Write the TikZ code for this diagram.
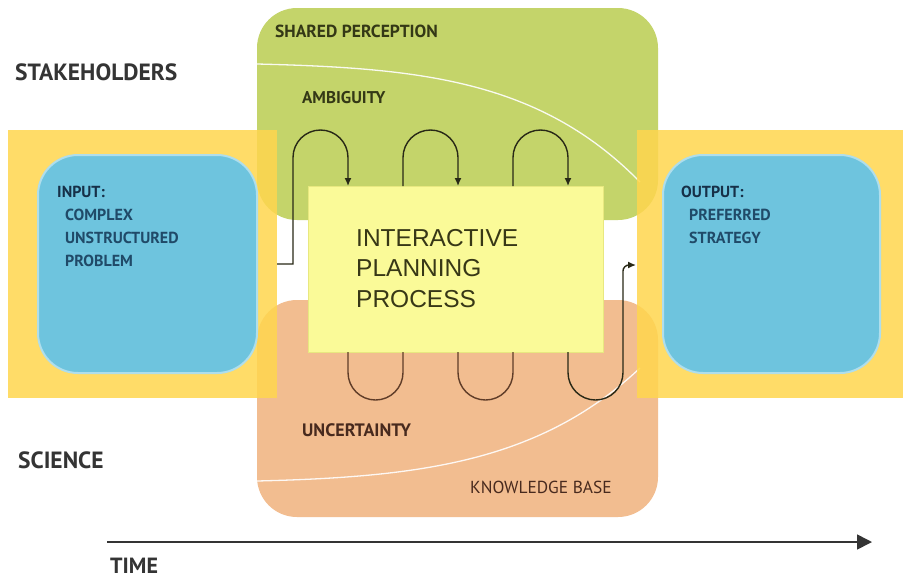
\documentclass[tikz,border=0pt]{standalone}
\usepackage{fontspec}
\setmainfont{PT Sans}
\newfontfamily\arialf{Liberation Sans}
\usetikzlibrary{arrows.meta}
\definecolor{grn}{RGB}{196,212,106}
\definecolor{org}{RGB}{242,189,144}
\definecolor{ylw}{RGB}{255,214,78}
\definecolor{blu}{RGB}{110,196,222}
\definecolor{blurim}{RGB}{175,222,236}
\definecolor{pale}{RGB}{250,250,152}
\definecolor{paleedge}{RGB}{232,232,128}
\definecolor{navy}{RGB}{22,48,72}
\definecolor{teal}{RGB}{32,74,104}
\definecolor{olive}{RGB}{52,56,22}
\definecolor{brwn}{RGB}{72,42,30}
\definecolor{lbl}{RGB}{52,52,52}
\definecolor{loopdark}{RGB}{40,40,22}
\definecolor{loopbrown}{RGB}{95,60,40}
\tikzset{
  region/.style={rounded corners=40pt},
  band/.style={fill=ylw, fill opacity=0.85},
  bluebox/.style={fill=blu, draw=blurim, line width=2pt, rounded corners=40pt},
  procbox/.style={fill=pale, draw=paleedge, line width=0.6pt, inner sep=0pt},
  biglbl/.style={font=\bfseries\fontsize{23.5}{26}\selectfont, text=lbl, inner sep=0pt, anchor=base west},
  boxtxt/.style={font=\bfseries\fontsize{16}{23}\selectfont, text=teal, inner sep=0pt, align=left, anchor=north west},
  grnlbl/.style={font=\bfseries\fontsize{17.5}{20}\selectfont, text=olive, inner sep=0pt, anchor=base west},
  orglbl/.style={font=\bfseries\fontsize{17.5}{20}\selectfont, text=brwn, inner sep=0pt, anchor=base west},
  looptop/.style={draw=loopdark, line width=1.4pt, -{Latex[length=8pt,width=7pt]}},
  loopbot/.style={draw=loopbrown, line width=1.4pt},
  whitecurve/.style={draw=white, line width=1.3pt, opacity=0.9},
}
\begin{document}
\begin{tikzpicture}[x=1pt,y=-1pt]
\useasboundingbox (0,0) rectangle (905,579);
\fill[white] (0,0) rectangle (905,579);

% regions
\path[region, fill=grn] (257,8) rectangle (658,220);
\path[region, fill=org] (257,300) rectangle (658,517);
\draw[whitecurve] (257,64) .. controls (420,68) and (540,80) .. (640,182);
\draw[whitecurve] (257,481) .. controls (420,477) and (540,462) .. (640,368);

% input / output bands
\path[band] (8,130) rectangle (277,398);
\path[band] (637,130) rectangle (903,398);
\node[bluebox, minimum width=219pt, minimum height=218pt] (in) at (147.5,264) {};
\node[bluebox, minimum width=217pt, minimum height=218pt] (out) at (771.5,264) {};

% process box
\node[procbox, minimum width=295pt, minimum height=166pt] (proc) at (455.5,269) {};
\node[font=\arialf\fontsize{24.5}{30.5}\selectfont, text={rgb,255:red,55;green,55;blue,22}, align=left, anchor=north west, inner sep=0pt] (proctxt) at (356,229) {INTERACTIVE\\PLANNING\\PROCESS};

% connectors (serpentine)
\coordinate (s0) at (277,264);
\coordinate (a1) at (348,186);
\coordinate (a2) at (458,186);
\coordinate (a3) at (568,186);
\coordinate (fin) at (636,265);
\draw[looptop] (s0) -- (293,264) -- (293,157.5) arc[start angle=180, end angle=360, radius=27.5] -- (a1);
\draw[looptop] (403,186) -- (403,157.5) arc[start angle=180, end angle=360, radius=27.5] -- (a2);
\draw[looptop] (513,186) -- (513,157.5) arc[start angle=180, end angle=360, radius=27.5] -- (a3);
\draw[loopbot] (348,352) -- (348,372.5) arc[start angle=180, end angle=0, radius=27.5] -- (403,352);
\draw[loopbot] (458,352) -- (458,372.5) arc[start angle=180, end angle=0, radius=27.5] -- (513,352);
\draw[loopbot, draw=loopdark, -{Latex[length=8pt,width=7pt]}] (568,352) -- (568,372.5) arc[start angle=180, end angle=0, radius=27.5] [rounded corners=6pt] -- (623,265) -- (fin);

% labels
\node[biglbl] (stake) at (15,80) {STAKEHOLDERS};
\node[biglbl] (sci) at (18,468) {SCIENCE};
\node[biglbl, font=\bfseries\fontsize{22}{26}\selectfont] (time) at (110,573) {TIME};
\node[grnlbl] (shared) at (275,37) {SHARED PERCEPTION};
\node[grnlbl, font=\bfseries\fontsize{17}{20}\selectfont] (amb) at (302,103) {AMBIGUITY};
\node[orglbl, font=\bfseries\fontsize{18}{20}\selectfont] (unc) at (302,436) {UNCERTAINTY};
\node[font=\fontsize{17.4}{20}\selectfont, text=brwn, inner sep=0pt, anchor=base west] (kb) at (470,493) {KNOWLEDGE BASE};
\node[boxtxt] (intxt) at (57,186) {\textcolor{navy}{INPUT:}\\\hspace*{8pt}COMPLEX\\\hspace*{8pt}UNSTRUCTURED\\\hspace*{8pt}PROBLEM};
\node[boxtxt] (outtxt) at (681,186) {\textcolor{navy}{OUTPUT:}\\\hspace*{8pt}PREFERRED\\\hspace*{8pt}STRATEGY};

% time axis
\coordinate (t0) at (107,542);
\coordinate (t1) at (872,542);
\draw[draw=lbl, line width=1.6pt, -{Triangle[length=15pt,width=15pt]}] (t0) -- (t1);
\end{tikzpicture}
\end{document}
